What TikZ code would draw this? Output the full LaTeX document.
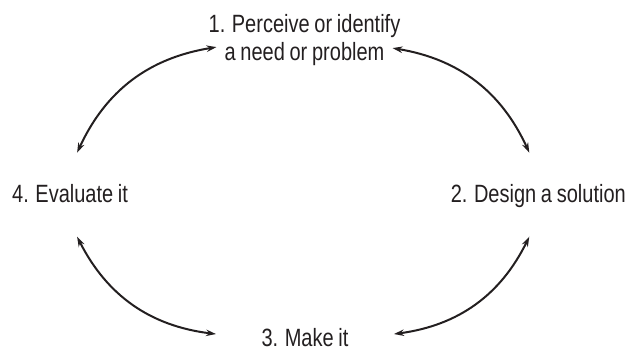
\documentclass[tikz,border=0pt]{standalone}
\usepackage{fontspec}
\newfontfamily\labelfont{Liberation Sans}[FakeStretch=0.8,WordSpace=0.85]
\usetikzlibrary{arrows.meta,calc}
\definecolor{ink}{RGB}{35,31,32}

\begin{document}
\begin{tikzpicture}[x=1pt,y=1pt,
stage/.style={inner sep=0pt, align=center, text=ink, font=\labelfont\fontsize{25}{28.5}\selectfont},
link/.style={{Stealth[length=10pt,width=6.5pt]}-{Stealth[length=10pt,width=6.5pt]}, line width=2pt, ink}]

\useasboundingbox (0,0) rectangle (627,352);

\node[stage, anchor=north] (perceive) at (304.5,338) {1. Perceive or identify\\a need or problem};

\node[stage, anchor=base east] (design) at (626,149) {2. Design a solution};

\node[stage, anchor=base] (make) at (305,5) {3. Make it};

\node[stage, anchor=base west] (evaluate) at (12,149) {4. Evaluate it};

\draw[link] ([xshift=-88pt,yshift=-7pt]perceive.center) to[bend right=28] ([xshift=7pt,yshift=32pt]evaluate.north);

\draw[link] ([xshift=88pt,yshift=-8pt]perceive.center) to[bend left=28] ([xshift=-9pt,yshift=32pt]design.north);

\draw[link] ([xshift=7pt,yshift=-52pt]evaluate.north) to[bend right=28] ([xshift=-89pt,yshift=4pt]make.center);

\draw[link] ([xshift=-9pt,yshift=-52pt]design.north) to[bend left=28] ([xshift=89pt,yshift=4pt]make.center);

\end{tikzpicture}
\end{document}
